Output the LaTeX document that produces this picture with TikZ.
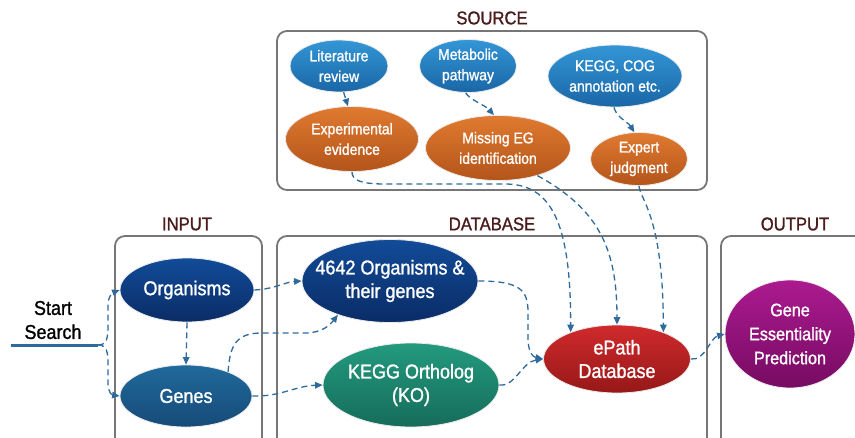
\documentclass[tikz,border=0pt]{standalone}
\usepackage{fontspec}
\setmainfont{Liberation Sans}[FakeStretch=0.9,FakeBold=1.2]
\usetikzlibrary{shapes.geometric,arrows.meta}
\definecolor{lbtop}{HTML}{3396D6}
\definecolor{lbbot}{HTML}{1A66A6}
\definecolor{ortop}{HTML}{E07A30}
\definecolor{orbot}{HTML}{B3541A}
\definecolor{nvtop}{HTML}{124B98}
\definecolor{nvbot}{HTML}{0A2C66}
\definecolor{gntop}{HTML}{206A9C}
\definecolor{gnbot}{HTML}{164A78}
\definecolor{grtop}{HTML}{239A7E}
\definecolor{grbot}{HTML}{166C5A}
\definecolor{rdtop}{HTML}{D02A2C}
\definecolor{rdbot}{HTML}{961818}
\definecolor{pptop}{HTML}{AC1A90}
\definecolor{ppbot}{HTML}{760B62}
\definecolor{arrc}{HTML}{2E6A9C}
\definecolor{boxc}{HTML}{767676}
\definecolor{secc}{HTML}{4A1C1C}
\tikzset{
  ell/.style={ellipse, inner sep=0pt, draw=white!92!black, line width=0.8pt},
  cblue/.style={top color=lbtop, bottom color=lbbot},
  corange/.style={top color=ortop, bottom color=orbot},
  cnavy/.style={top color=nvtop, bottom color=nvbot},
  cgenes/.style={top color=gntop, bottom color=gnbot},
  cgreen/.style={top color=grtop, bottom color=grbot},
  cred/.style={top color=rdtop, bottom color=rdbot},
  cpurple/.style={top color=pptop, bottom color=ppbot},
  txt/.style={text=white, align=center, inner sep=0pt},
  small/.style={font=\fontsize{15.5}{20.5}\selectfont},
  big/.style={font=\fontsize{20}{23.5}\selectfont},
  outf/.style={font=\fontsize{18}{24}\selectfont},
  arr/.style={draw=arrc, line width=1.3pt, dash pattern=on 6pt off 4pt, -{Triangle[length=7.5pt,width=6.5pt]}},
  boxx/.style={draw=boxc, line width=1.8pt, rounded corners=10pt},
  sec/.style={text=secc, font=\fontsize{18.5}{20}\selectfont, inner sep=0pt},
}
\begin{document}
\begin{tikzpicture}[x=1pt,y=-1pt]
\useasboundingbox (0,0) rectangle (855,437);
\clip (0,0) rectangle (855,437);
\fill[white] (0,0) rectangle (855,437);

% boxes
\draw[boxx] (277,31) rectangle (707,190);
\draw[boxx] (115,236) rectangle (262,460);
\draw[boxx] (277,236) rectangle (707,460);
\draw[boxx] (721,236) rectangle (880,460);

\node[sec] (lsrc) at (492,18) {SOURCE};
\node[sec] (linp) at (187,224) {INPUT};
\node[sec] (ldb) at (492,224) {DATABASE};
\node[sec] (lout) at (795,224) {OUTPUT};

% source nodes
\node[ell,cblue,minimum width=98pt,minimum height=52pt] (lit) at (339,66) {};
\node[txt,small] (lit-t) at (lit.center) {Literature\\review};
\node[ell,cblue,minimum width=97pt,minimum height=53pt] (met) at (468,66) {};
\node[txt,small] (met-t) at (met.center) {Metabolic\\pathway};
\node[ell,cblue,minimum width=134pt,minimum height=62pt] (kcog) at (615,76) {};
\node[txt,small] (kcog-t) at (kcog.center) {KEGG, COG\\annotation etc.};
\node[ell,corange,minimum width=133pt,minimum height=65pt] (expv) at (352,139) {};
\node[txt,small] (expv-t) at (expv.center) {Experimental\\evidence};
\node[ell,corange,minimum width=145pt,minimum height=65pt] (mis) at (498,148) {};
\node[txt,small] (mis-t) at (mis.center) {Missing EG\\identification};
\node[ell,corange,minimum width=97pt,minimum height=53pt] (expj) at (639,159) {};
\node[txt,small] (expj-t) at (expj.center) {Expert\\judgment};

% input / database / output nodes
\node[ell,cnavy,minimum width=134pt,minimum height=64pt] (org) at (187,290) {};
\node[txt,big] (org-t) at (org.center) {Organisms};
\node[ell,cgenes,minimum width=132pt,minimum height=62pt] (gen) at (186,396) {};
\node[txt,big] (gen-t) at (gen.center) {Genes};
\node[ell,cnavy,minimum width=176pt,minimum height=83pt] (db) at (390,281) {};
\node[txt,big] (db-t) at (db.center) {4642 Organisms \&\\their genes};
\node[ell,cgreen,minimum width=176pt,minimum height=84pt] (ko) at (411,385) {};
\node[txt,big] (ko-t) at (ko.center) {KEGG Ortholog\\(KO)};
\node[ell,cred,minimum width=147pt,minimum height=68pt] (ep) at (617,359) {};
\node[txt,big] (ep-t) at (ep.center) {ePath\\Database};
\node[ell,cpurple,minimum width=130pt,minimum height=108pt] (gep) at (790,334) {};
\node[txt,outf] (gep-t) at (gep.center) {Gene\\Essentiality\\Prediction};

% start
\node[align=center, inner sep=0pt, font=\fontsize{20}{24}\selectfont] (start) at (53,320) {Start\\Search};
\coordinate (s0) at (11,345);
\coordinate (st) at (98,345);
\draw[draw=arrc, line width=3pt] (s0) -- (st);

% connectors
\draw[arr] (st) .. controls (107,345) and (108,338) .. (108,325) -- (108,305) .. controls (108,297) and (112,293) .. (org.west);
\draw[arr] (st) .. controls (107,345) and (108,352) .. (108,365) -- (108,384) .. controls (108,392) and (112,395) .. (gen.west);
\draw[arr] (org.south) -- (gen.north);
\draw[arr] (org.east) .. controls (275,289) and (285,282) .. (db.west);
\draw[arr] (gen.30) .. controls (230,345) and (236,333) .. (262,333) -- (305,333) .. controls (322,333) and (330,325) .. (db.-147);
\draw[arr] (gen.east) .. controls (280,397) and (295,386) .. (ko.west);
\draw[arr] (db.east) .. controls (520,281) and (528,290) .. (528,312) -- (528,338) .. controls (528,352) and (533,357) .. (ep.west);
\draw[arr] (ko.east) .. controls (515,387) and (522,362) .. (ep.west);
\draw[arr] (ep.east) .. controls (705,361) and (710,338) .. (gep.west);

\draw[arr] (lit.-80) -- (expv.97);
\draw[arr] (met.-95) .. controls (470,100) and (485,105) .. (mis.97);
\draw[arr] (kcog.-92) .. controls (617,118) and (628,122) .. (expj.100);
\draw[arr] (expv.-90) .. controls (352,180) and (360,184) .. (385,184) -- (505,184) .. controls (550,184) and (571,220) .. (ep.150);
\draw[arr] (mis.-35) .. controls (600,210) and (617,250) .. (ep.north);
\draw[arr] (expj.-90) .. controls (640,200) and (663,215) .. (ep.30);
\end{tikzpicture}
\end{document}
